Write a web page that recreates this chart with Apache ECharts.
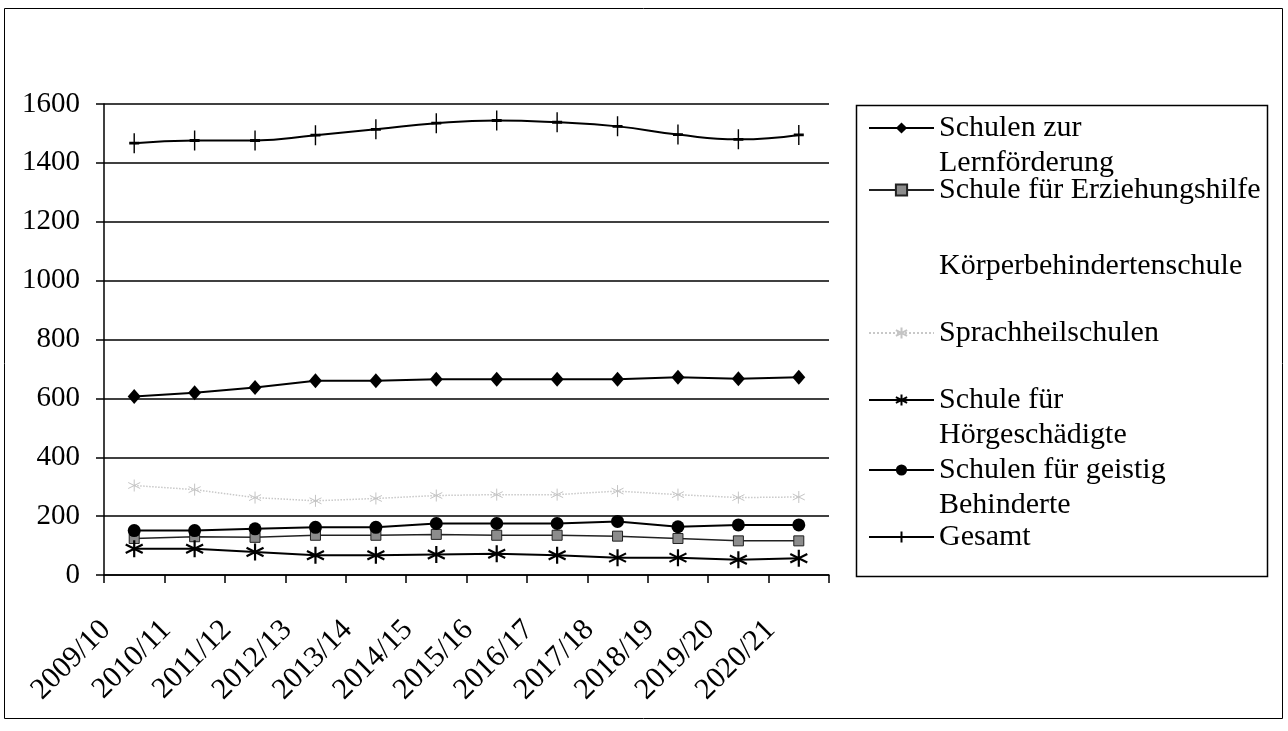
<!DOCTYPE html>
<html>
<head>
<meta charset="utf-8">
<script src="https://cdn.jsdelivr.net/npm/echarts@6/dist/echarts.min.js"></script>
<style>
html,body{margin:0;padding:0;background:#fff;}
#chart{width:1288px;height:731px;}
</style>
</head>
<body>
<div id="chart"></div>
<script>
const categories = ['2009/10','2010/11','2011/12','2012/13','2013/14','2014/15','2015/16','2016/17','2017/18','2018/19','2019/20','2020/21'];
const yTicks = [0, 200, 400, 600, 800, 1000, 1200, 1400, 1600];

const lernfoerderung   = [606, 619, 637, 660, 660, 665, 665, 665, 665, 672, 667, 672];
const erziehungshilfe  = [124, 130, 128, 135, 135, 138, 135, 135, 132, 124, 116, 116];
const koerperbehindert = [null, null, null, null, null, null, null, null, null, null, null, null];
const sprachheil       = [304, 290, 263, 252, 260, 270, 273, 273, 285, 273, 263, 265];
const hoergeschaedigt  = [89, 89, 78, 67, 67, 70, 72, 67, 59, 59, 52, 57];
const geistigBehindert = [151, 151, 157, 162, 162, 175, 175, 175, 182, 164, 170, 170];
const gesamt           = [1467, 1476, 1476, 1494, 1514, 1535, 1544, 1538, 1524, 1496, 1480, 1495];

const names = ['Schulen zur Lernförderung', 'Schule für Erziehungshilfe', 'Körperbehindertenschule', 'Sprachheilschulen', 'Schule für Hörgeschädigte', 'Schulen für geistig Behinderte', 'Gesamt'];
const legendLines = [['Schulen zur', 'Lernförderung'], ['Schule für Erziehungshilfe'], ['Körperbehindertenschule'], ['Sprachheilschulen'], ['Schule für', 'Hörgeschädigte'], ['Schulen für geistig', 'Behinderte'], ['Gesamt']];

const FONT = 'Liberation Serif';
const asterisk = 'path://M10,0 L10,20 M1.34,5 L18.66,15 M1.34,15 L18.66,5';
const plusMark = 'path://M5,0 L5,20 M0,10 L10,10';

const LH = 35;
const legendY = [128, 190, 266, 333, 400, 470, 537];
const legends = names.map((n, i) => {
  const lines = legendLines[i];
  // two-line entries: add a blank leading line so the first line sits on the icon
  const text = lines.length === 2 ? ' \n' + lines[0] + '\n' + lines[1] : lines[0];
  const nLines = lines.length === 2 ? 3 : 1;
  return {
    data: [n],
    orient: 'vertical',
    left: 868,
    top: legendY[i] - (nLines * LH) / 2,
    itemWidth: 65,
    itemHeight: 14,
    selectedMode: false,
    padding: 0,
    formatter: () => text,
    textStyle: { fontFamily: FONT, fontSize: 30, lineHeight: LH, color: '#000' }
  };
});

const option = {
  animation: false,
  backgroundColor: '#fff',
  graphic: [
    { type: 'rect', shape: { x: 4.5, y: 8.5, width: 1278, height: 710 }, style: { fill: 'none', stroke: '#000', lineWidth: 1 } },
    { type: 'rect', shape: { x: 856.5, y: 105.5, width: 411, height: 471 }, style: { fill: 'none', stroke: '#000', lineWidth: 1.5 } }
  ],
  legend: legends,
  grid: { left: 104, right: 459, top: 104, bottom: 156 },
  xAxis: {
    type: 'category',
    data: categories,
    boundaryGap: true,
    axisLine: { lineStyle: { color: '#000', width: 1.5 } },
    axisTick: { show: true, length: 8, lineStyle: { color: '#000', width: 1.5 } },
    axisLabel: {
      rotate: 45, interval: 0, margin: 22, padding: [0, 40, 0, 0],
      fontFamily: FONT, fontSize: 30, color: '#000'
    },
    splitLine: { show: false }
  },
  yAxis: {
    type: 'value',
    min: 0, max: 1600, interval: 200,
    axisLine: { show: true, lineStyle: { color: '#000', width: 1.5 } },
    axisTick: { show: true, length: 8, lineStyle: { color: '#000', width: 1.5 } },
    axisLabel: {
      margin: 24, fontFamily: FONT, fontSize: 29, color: '#000',
      formatter: v => (yTicks.indexOf(v) >= 0 ? String(v) : '')
    },
    splitLine: { show: true, lineStyle: { color: '#000', width: 1.5 } }
  },
  series: [
    {
      name: names[0], type: 'line', data: lernfoerderung,
      symbol: 'diamond', symbolSize: [13, 15],
      itemStyle: { color: '#000' }, lineStyle: { color: '#000', width: 2 }
    },
    {
      name: names[1], type: 'line', data: erziehungshilfe,
      symbol: 'rect', symbolSize: 10,
      itemStyle: { color: '#8c8c8c', borderColor: '#222', borderWidth: 1 },
      lineStyle: { color: '#222', width: 1.5 }
    },
    {
      name: names[2], type: 'line', data: koerperbehindert,
      symbol: 'none', itemStyle: { color: '#fff' }, lineStyle: { color: '#fff', width: 1 }
    },
    {
      name: names[3], type: 'line', data: sprachheil,
      symbol: asterisk, symbolSize: 12,
      itemStyle: { color: '#c4c4c4', borderColor: '#c4c4c4', borderWidth: 1 },
      lineStyle: { color: '#c8c8c8', width: 1.5, type: 'dotted' }
    },
    {
      name: names[4], type: 'line', data: hoergeschaedigt,
      symbol: asterisk, symbolSize: 17,
      itemStyle: { color: '#000', borderColor: '#000', borderWidth: 2.2 },
      lineStyle: { color: '#000', width: 2 }
    },
    {
      name: names[5], type: 'line', data: geistigBehindert,
      symbol: 'circle', symbolSize: 13,
      itemStyle: { color: '#000' }, lineStyle: { color: '#000', width: 2 }
    },
    {
      name: names[6], type: 'line', data: gesamt, smooth: true,
      symbol: plusMark, symbolSize: [10, 20],
      itemStyle: { color: '#000', borderColor: '#000', borderWidth: 2 },
      lineStyle: { color: '#000', width: 2 }
    }
  ]
};

const chart = echarts.init(document.getElementById('chart'), null, { renderer: 'canvas' });
chart.setOption(option);
</script>
</body>
</html>
